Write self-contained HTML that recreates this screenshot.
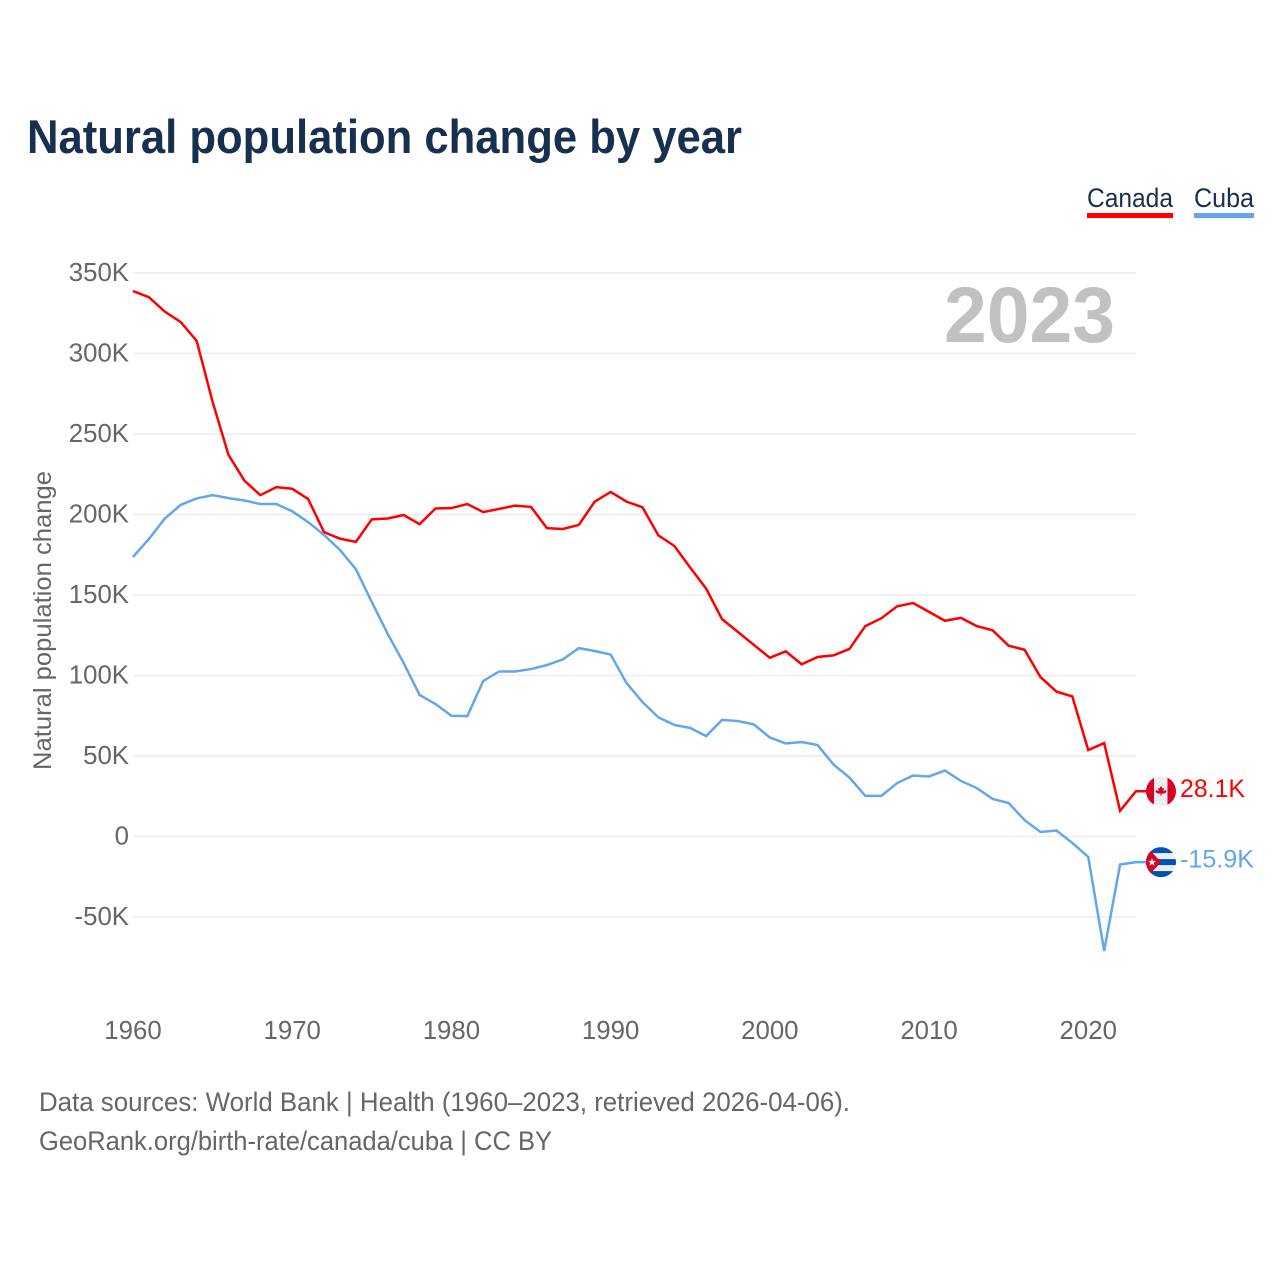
<!DOCTYPE html>
<html lang="en">
<head>
<meta charset="utf-8">
<title>Natural population change by year</title>
<style>
html,body{margin:0;padding:0;background:#fff;}
body{width:1280px;height:1280px;overflow:hidden;}
svg{display:block;font-family:"Liberation Sans",sans-serif;}
</style>
</head>
<body>
<svg id="chart" width="1280" height="1280" viewBox="0 0 1280 1280" xmlns="http://www.w3.org/2000/svg">
  <defs>
    <clipPath id="flag-clip"><circle cx="0" cy="0" r="15"/></clipPath>
  </defs>
  <rect x="0" y="0" width="1280" height="1280" fill="#fff"/>
  <text x="27" y="153" font-size="47" font-weight="700" fill="#18304f" textLength="715" lengthAdjust="spacingAndGlyphs">Natural population change by year</text>

  <g>
    <g>
      <text x="1087" y="207" font-size="27" fill="#18304f" textLength="86" lengthAdjust="spacingAndGlyphs">Canada</text>
      <rect x="1087" y="213" width="86" height="5" fill="#ff0000"/>
    </g>
    <g>
      <text x="1194" y="207" font-size="27" fill="#18304f" textLength="60" lengthAdjust="spacingAndGlyphs">Cuba</text>
      <rect x="1194" y="213" width="60" height="5" fill="#62a6ec"/>
    </g>
  </g>

  <g id="grid"></g>
  <g id="y-labels"></g>
  <g id="x-labels"></g>

  <text transform="translate(51 770) rotate(-90)" x="0" y="0" font-size="25" fill="#666" textLength="299" lengthAdjust="spacingAndGlyphs">Natural population change</text>

  <text x="1115" y="342" text-anchor="end" font-size="79" font-weight="700" fill="#c1c1c1" textLength="171" lengthAdjust="spacingAndGlyphs">2023</text>

  <g id="series"></g>

  <g id="flag-canada" clip-path="url(#flag-clip)">
    <rect x="-15" y="-15" width="30" height="30" fill="#eeeeee"/>
    <rect x="-15" y="-15" width="8" height="30" fill="#d80027"/>
    <rect x="6.5" y="-15" width="8.5" height="30" fill="#d80027"/>
    <polygon fill="#d80027" points="0,-5.5 1.5,-2.8 3,-3.4 2.4,0 4.8,-1.2 5.5,0.6 3.5,2.2 0.5,2.4 0.5,4.5 -0.5,4.5 -0.5,2.4 -3.5,2.2 -5.5,0.6 -4.8,-1.2 -2.4,0 -3,-3.4 -1.5,-2.8"/>
  </g>

  <g id="flag-cuba" clip-path="url(#flag-clip)">
    <rect x="-15" y="-15" width="30" height="30" fill="#eeeeee"/>
    <rect x="-15" y="-15" width="30" height="6" fill="#0052b4"/>
    <rect x="-15" y="-3" width="30" height="6" fill="#0052b4"/>
    <rect x="-15" y="9" width="30" height="6" fill="#0052b4"/>
    <polygon fill="#d80027" points="-15,-15 -12,-13 0,0 -12,13 -15,15"/>
    <polygon fill="#eeeeee" points="-9,-4 -7.8,-1.2 -4.8,-1.2 -7.2,0.7 -6.4,3.6 -9,2 -11.6,3.6 -10.8,0.7 -13.2,-1.2 -10.2,-1.2"/>
  </g>

  <text id="value-canada" x="1180" font-size="25" fill="#ff0000" textLength="65" lengthAdjust="spacingAndGlyphs"></text>
  <text id="value-cuba" x="1180" font-size="25" fill="#62a6ec" textLength="74" lengthAdjust="spacingAndGlyphs"></text>

  <g>
    <text x="39" y="1111" font-size="27" fill="#666" textLength="811" lengthAdjust="spacingAndGlyphs">Data sources: World Bank | Health (1960–2023, retrieved 2026-04-06).</text>
    <text x="39" y="1150" font-size="27" fill="#666" textLength="513" lengthAdjust="spacingAndGlyphs">GeoRank.org/birth-rate/canada/cuba | CC BY</text>
  </g>
</svg>

<script>
const firstYear = 1960;
const canadaValues = [338.8,335,326,319.5,307.8,270,237,221,212,217,216,209.6,189,185,183,197,197.5,199.7,194,203.7,204,206.5,201.5,203.5,205.5,204.7,191.5,191,193.5,208,214,208,204.5,187,180.5,167,154,135,127,119,111,115,107,111.5,112.5,116.5,130.7,135.5,143,145,139.5,134,135.8,130.7,128,118.5,116,99,90,87,53.7,58,16,28.1];
const cubaValues = [173.6,184.8,197.5,206,210,212,210.2,208.7,206.5,206.5,202,195.3,187.3,178,166,145.6,125.8,107.8,87.9,82.3,75,74.8,96.6,102.5,102.5,104,106.5,110,117,115.2,113,95.3,83.5,74,69.3,67.4,62.4,72.4,71.7,69.6,61.5,57.8,58.7,56.8,44.7,36.6,25.2,25.2,33.2,37.9,37.3,41,34.5,30.1,23.3,20.8,10.2,2.8,3.7,-4,-12.7,-71,-17.4,-15.9];
const yTickValues = [350,300,250,200,150,100,50,0,-50];
const xTickYears = [1960,1970,1980,1990,2000,2010,2020];

const SVG_NS = 'http://www.w3.org/2000/svg';
const plotLeft = 133;
const plotRight = 1136;
const lastYear = firstYear + canadaValues.length - 1;
const xScale = year => plotLeft + (year - firstYear) * (plotRight - plotLeft) / (lastYear - firstYear);
const yScale = value => 836.5 - value * 1.61;
const fmtTick = value => value === 0 ? '0' : value + 'K';
const fmtEnd = value => value.toFixed(1) + 'K';

const grid = document.getElementById('grid');
const yLabels = document.getElementById('y-labels');
const xLabels = document.getElementById('x-labels');
const series = document.getElementById('series');

yTickValues.forEach(value => {
  const line = document.createElementNS(SVG_NS, 'line');
  
  
  line.setAttribute('x1', plotLeft);
  line.setAttribute('x2', plotRight);
  line.setAttribute('y1', yScale(value));
  line.setAttribute('y2', yScale(value));
  line.setAttribute('stroke', '#ebebeb');
  line.setAttribute('stroke-width', '1.4');
  grid.appendChild(line);

  const label = document.createElementNS(SVG_NS, 'text');
  
  
  label.setAttribute('x', 129);
  label.setAttribute('y', yScale(value) + 8);
  label.setAttribute('text-anchor', 'end');
  label.setAttribute('font-size', '25.8');
  label.setAttribute('fill', '#666');
  label.textContent = fmtTick(value);
  yLabels.appendChild(label);
});

xTickYears.forEach(year => {
  const label = document.createElementNS(SVG_NS, 'text');
  
  
  label.setAttribute('x', xScale(year));
  label.setAttribute('y', 1039);
  label.setAttribute('text-anchor', 'middle');
  label.setAttribute('font-size', '25.8');
  label.setAttribute('fill', '#666');
  label.textContent = year;
  xLabels.appendChild(label);
});

function drawSeries(values, color, key) {
  const pts = values.map((v, i) => xScale(firstYear + i).toFixed(2) + ',' + yScale(v).toFixed(2));
  const endY = yScale(values[values.length - 1]);
  pts.push('1150,' + endY.toFixed(2));
  const line = document.createElementNS(SVG_NS, 'polyline');
  
  
  line.setAttribute('points', pts.join(' '));
  line.setAttribute('fill', 'none');
  line.setAttribute('stroke', color);
  line.setAttribute('stroke-width', '2.5');
  line.setAttribute('stroke-linejoin', 'miter');
  series.appendChild(line);
  document.getElementById('flag-' + key).setAttribute('transform', 'translate(1161 ' + endY.toFixed(2) + ')');
  const valueLabel = document.getElementById('value-' + key);
  valueLabel.setAttribute('y', (endY + 5.5).toFixed(2));
  valueLabel.textContent = fmtEnd(values[values.length - 1]);
}
drawSeries(canadaValues, '#ff0000', 'canada');
drawSeries(cubaValues, '#62a6ec', 'cuba');
</script>
</body>
</html>
